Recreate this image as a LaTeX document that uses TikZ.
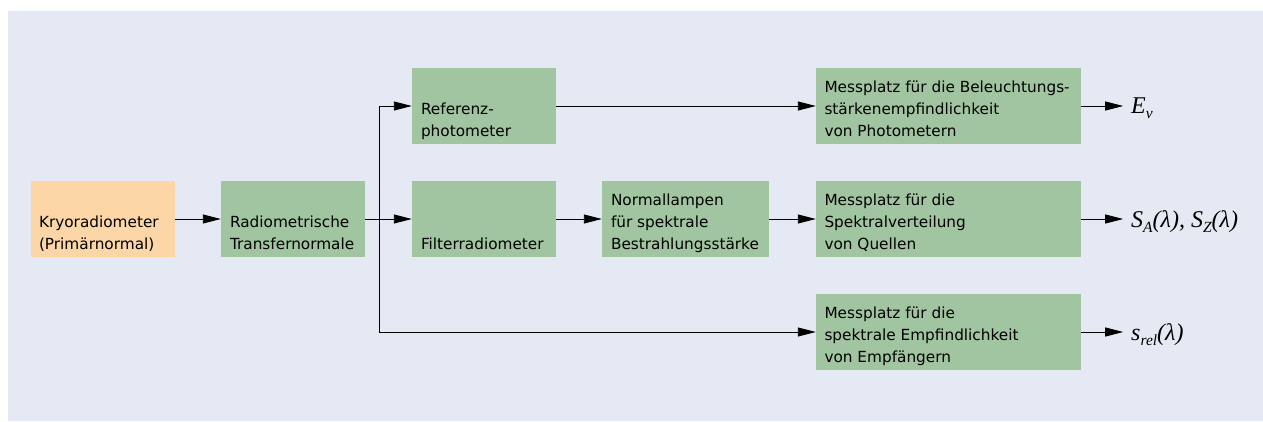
\documentclass[tikz,border=0pt]{standalone}
\usepackage{fontspec}
\setmainfont{DejaVu Sans}
\newfontfamily\serf{Liberation Serif}
\usetikzlibrary{arrows.meta}
\definecolor{bgc}{HTML}{E5E9F3}
\definecolor{grn}{HTML}{A1C5A0}
\definecolor{org}{HTML}{FCD6A6}
\newcommand{\sbs}[1]{\raisebox{-0.22em}{\fontsize{15.5}{15.5}\selectfont #1}}
\begin{document}
\begin{tikzpicture}[x=1pt,y=-1pt,
  box/.style={fill=grn,draw=none,minimum height=76pt,minimum width=#1,inner sep=0pt,anchor=center},
  box/.default=144pt,
  txt/.style={anchor=base west,inner sep=0pt,align=left,font=\fontsize{15.3}{22}\selectfont},
  arr/.style={-{Triangle[length=18pt,width=9pt]},line width=0.9pt,black},
  outl/.style={anchor=base west,inner sep=0pt,font=\serf\itshape\fontsize{24}{24}\selectfont}]
\useasboundingbox (0,0) rectangle (1263,421);
\fill[white] (0,0) rectangle (1263,421);
\fill[bgc] (8,11) rectangle (1263,421);
\node[box,fill=org] (kryo) at (103,219) {};
\node[box] (radio) at (293,219) {};
\node[box] (ref) at (484,106) {};
\node[box] (filt) at (484,219) {};
\node[box=167pt] (lamp) at (685.5,219) {};
\node[box=265pt] (m1) at (948.5,106) {};
\node[box=265pt] (m2) at (948.5,219) {};
\node[box=265pt] (m3) at (948.5,332) {};
\node[txt] (tkryo) at ([shift={(8,68.5)}]kryo.north west) {Kryoradiometer\\(Primärnormal)};
\node[txt] (tradio) at ([shift={(9,68.5)}]radio.north west) {Radiometrische\\Transfernormale};
\node[txt] (tref) at ([shift={(9,68.5)}]ref.north west) {Referenz-\\photometer};
\node[txt] (tfilt) at ([shift={(9,68.5)}]filt.north west) {Filterradiometer};
\node[txt] (tlamp) at ([shift={(9,68.5)}]lamp.north west) {Normallampen\\für spektrale\\Bestrahlungsstärke};
\node[txt] (tm1) at ([shift={(8.5,68.5)}]m1.north west) {Messplatz für die Beleuchtungs-\\stärkenempfindlichkeit\\von Photometern};
\node[txt] (tm2) at ([shift={(8.5,68.5)}]m2.north west) {Messplatz für die\\Spektralverteilung\\von Quellen};
\node[txt] (tm3) at ([shift={(8.5,68.5)}]m3.north west) {Messplatz für die\\spektrale Empfindlichkeit\\von Empfängern};
\node[outl] (ev) at (1131,113) {E\sbs{v}};
\node[outl] (sa) at (1131,227) {S\sbs{A}(λ), S\sbs{Z}(λ)};
\node[outl] (sr) at (1131,340) {s\sbs{rel}(λ)};
\coordinate (split) at (379,219);
\draw[arr] (kryo) -- (radio);
\draw[arr] (radio) -- (filt);
\draw[arr] (split) |- (ref);
\draw[arr] (split) |- (m3);
\draw[arr] (ref) -- (m1);
\draw[arr] (filt) -- (lamp);
\draw[arr] (lamp) -- (m2);
\draw[arr] (m1.east) -- +(42,0);
\draw[arr] (m2.east) -- +(42,0);
\draw[arr] (m3.east) -- +(42,0);
\end{tikzpicture}
\end{document}
